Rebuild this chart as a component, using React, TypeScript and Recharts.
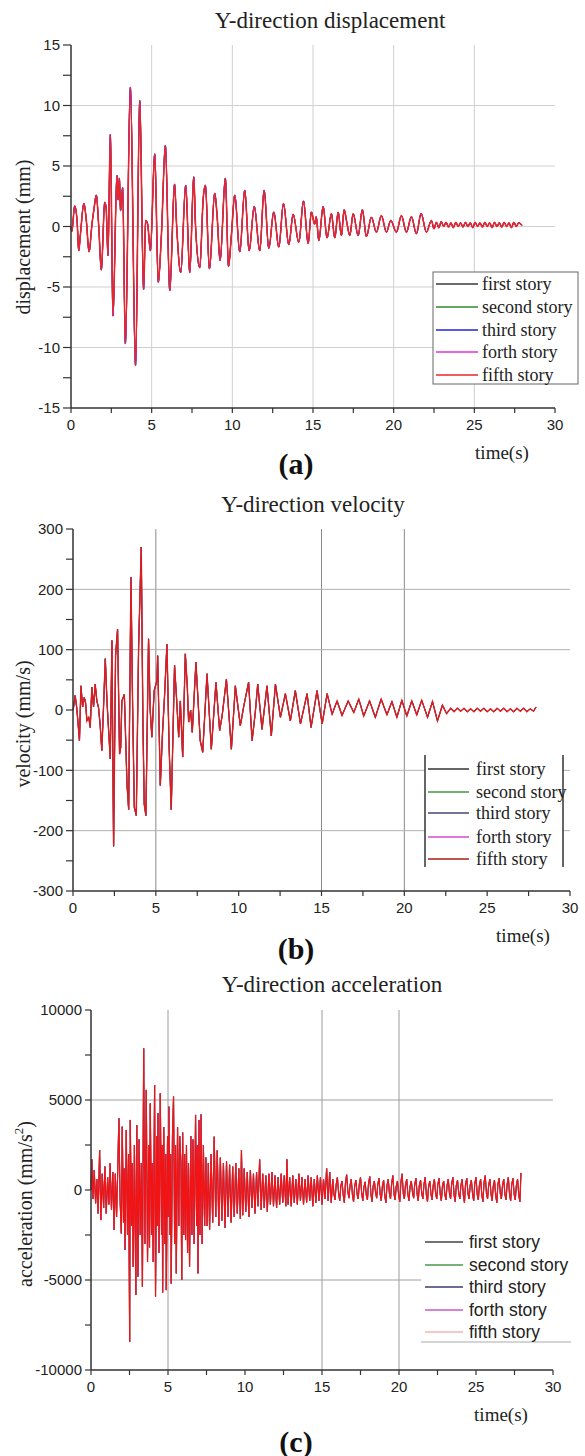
import React from 'react';
import { LineChart, Line, XAxis, YAxis, ReferenceLine } from 'recharts';

const storyNames = ['first story', 'second story', 'third story', 'forth story', 'fifth story'];
const storyKeys = ['first', 'second', 'third', 'forth', 'fifth'];

// [time (s), value] for the top (fifth) story; the other stories sit under it
const dispPoints: [number, number][] = [
  [0, 0], [0.05, -0.4], [0.23, 1.7], [0.38, 0.4], [0.48, -2.0], [0.58, -0.7], [0.8, 1.9], [0.95, 0.5],
  [1.12, -2.1], [1.3, 0.2], [1.43, 1.5], [1.57, 2.6], [1.72, 0], [1.88, -3.6], [2.09, 2.0], [2.18, 1.5],
  [2.29, -2.4], [2.44, 7.6], [2.6, -7.4], [2.85, 4.2], [2.93, 2.2], [3.0, 4.0], [3.07, 1.3], [3.2, 3.2],
  [3.37, -9.7], [3.68, 11.5], [4.0, -11.5], [4.26, 10.4], [4.5, -5.2], [4.63, 0.5], [4.75, 0.2], [4.92, -2.0],
  [5.19, 6.0], [5.41, -4.6], [5.6, -0.8], [5.85, 6.7], [6.12, -5.3], [6.42, 3.5], [6.55, 0], [6.8, -3.8],
  [7.11, 3.4], [7.36, -3.8], [7.61, 4.1], [7.72, 0], [7.98, -3.4], [8.2, 2.4], [8.33, 3.4], [8.58, -3.5],
  [8.91, 2.75], [9.05, 1.0], [9.24, -2.8], [9.57, 4.0], [9.76, -3.3], [9.94, -0.75], [10.15, 2.6], [10.46, -2.1],
  [10.77, 3.0], [11.04, -2.0], [11.36, 1.65], [11.7, -2.0], [11.97, 3.0], [12.26, -1.8], [12.57, 1.2], [12.88, -1.7],
  [13.17, 1.9], [13.5, -1.5], [13.77, 1.0], [14.12, -1.3], [14.41, 2.1], [14.7, -1.4], [14.9, 1.2], [15.1, 0.2],
  [15.2, 0.8], [15.36, -1.16], [15.63, 1.65], [15.87, -0.94], [16.14, 1.05], [16.35, -0.94], [16.56, 1.18], [16.76, -0.74],
  [16.93, 1.38], [17.1, 0.3], [17.28, -0.74], [17.49, 1.05], [17.8, -0.74], [18.06, 1.38], [18.31, -0.83], [18.62, 0.77],
  [18.93, -0.47], [19.24, 0.9], [19.55, -0.47], [19.82, 0.5], [20.17, -0.47], [20.48, 0.9], [20.79, -0.47], [21.1, 0.8],
  [21.41, -0.6], [21.7, 1.07], [22.03, -0.47], [22.34, 0.5], [22.5, -0.2], [22.65, 0.35], [22.8, -0.1], [22.95, 0.4],
  [23.1, 0], [23.25, 0.35], [23.4, -0.05], [23.55, 0.3], [23.7, -0.1], [23.85, 0.35], [24.0, 0], [24.15, 0.3],
  [24.3, -0.05], [24.45, 0.35], [24.6, 0], [24.75, 0.3], [24.9, -0.1], [25.05, 0.35], [25.2, 0], [25.35, 0.3],
  [25.5, -0.05], [25.65, 0.35], [25.8, 0], [25.95, 0.3], [26.1, -0.1], [26.25, 0.35], [26.4, 0], [26.55, 0.3],
  [26.7, -0.05], [26.85, 0.35], [27.0, 0], [27.15, 0.3], [27.3, -0.1], [27.45, 0.35], [27.6, 0], [27.75, 0.3],
  [27.95, 0.1],
];

const velPoints: [number, number][] = [
  [0, 0], [0.03, 4], [0.13, 24], [0.22, 5], [0.3, -20], [0.39, -51], [0.48, 40], [0.58, 5], [0.68, 21], [0.76, 12],
  [0.84, -18], [0.95, -12], [1.04, -29], [1.14, 38], [1.24, 5], [1.34, 43], [1.44, 15], [1.54, 4], [1.64, -25],
  [1.74, -67], [1.85, 10], [1.95, 85], [2.05, 15], [2.15, -34], [2.25, -81], [2.35, 115], [2.45, -226], [2.57, 90],
  [2.69, 134], [2.81, -73], [2.88, -62], [2.95, 15], [3.1, 26], [3.26, -123], [3.36, -165], [3.5, 220], [3.6, 5],
  [3.7, -161], [3.82, -175], [3.96, 104], [4.12, 270], [4.22, -20], [4.3, -156], [4.4, -175], [4.56, 118], [4.66, 0],
  [4.76, -45], [4.9, 32], [5.07, 49], [5.11, 90], [5.27, -125], [5.4, -40], [5.52, 20], [5.67, 109], [5.8, -60],
  [5.93, -165], [6.13, 74], [6.25, 20], [6.38, -45], [6.48, 15], [6.62, -78], [6.78, 93], [6.9, 38], [6.98, -20],
  [7.1, 0], [7.2, -37], [7.42, 79], [7.55, 15], [7.68, -51], [7.83, -70], [8.09, 60], [8.35, -65], [8.63, 46],
  [8.85, -34], [9.0, -10], [9.26, 51], [9.56, -65], [9.8, 40], [10.1, -26], [10.3, 5], [10.6, 46], [10.81, -51],
  [11.0, -5], [11.15, 43], [11.41, -32], [11.71, 40], [11.97, -43], [12.22, 43], [12.52, -12], [12.82, 27],
  [13.12, -18], [13.42, 32], [13.73, -23], [14.13, 27], [14.37, -29], [14.73, 32], [15.04, -23], [15.34, 27],
  [15.64, -7], [15.94, 15], [16.24, -9], [16.61, 15], [16.95, -4], [17.25, 18], [17.55, -10], [17.9, 15],
  [18.25, -12], [18.6, 18], [18.95, -8], [19.25, 14], [19.55, -12], [19.85, 16], [20.15, -10], [20.45, 15],
  [20.75, -8], [21.05, 16], [21.4, -12], [21.7, 14], [22.0, -18], [22.3, 8], [22.55, -6], [22.8, 3], [23.0, -3],
  [23.2, 3], [23.4, -2], [23.6, 3], [23.8, -3], [24.0, 2], [24.2, -3], [24.4, 3], [24.6, -2], [24.8, 3], [25.0, -3],
  [25.2, 2], [25.4, -3], [25.6, 3], [25.8, -2], [26.0, 3], [26.2, -3], [26.4, 2], [26.6, -3], [26.8, 3], [27.0, -2],
  [27.2, 3], [27.4, -3], [27.6, 2], [27.8, -2], [27.95, 5],
];

const accPoints: [number, number][] = [
  [0, 0], [0.05, 1700], [0.13, -500], [0.21, 1100], [0.3, -740], [0.38, 600], [0.46, -1300], [0.56, 2220],
  [0.64, -1670], [0.73, 900], [0.82, -1000], [0.9, 1300], [0.99, -1300], [1.08, 700], [1.16, -800], [1.24, 1480],
  [1.33, -1100], [1.42, 1000], [1.5, -2220], [1.58, 900], [1.66, -1500], [1.74, 1200], [1.81, 3980], [1.89, -600],
  [1.97, -2410], [2.03, 3520], [2.11, -1800], [2.16, 1200], [2.21, -3330], [2.29, 3330], [2.37, -2500], [2.44, 2000],
  [2.51, -8430], [2.55, 3890], [2.63, -2000], [2.68, 1500], [2.74, -4260], [2.82, 2500], [2.91, -5830], [2.97, 3610],
  [3.05, -4810], [3.12, 2800], [3.2, -2500], [3.27, 1500], [3.34, -5370], [3.42, 7870], [3.5, -3000], [3.59, 5560],
  [3.67, -4000], [3.75, 2500], [3.8, -3200], [3.85, 4810], [3.93, -2500], [3.98, 1500], [4.04, -4000], [4.13, 5830],
  [4.19, -5930], [4.27, 3000], [4.31, -2000], [4.35, 4260], [4.42, -3500], [4.5, 5370], [4.58, -2500], [4.62, 2500],
  [4.65, -5700], [4.72, 3500], [4.8, -3000], [4.85, 2000], [4.89, -5560], [4.97, 3000], [5.02, -1500], [5.06, 4630],
  [5.13, -2500], [5.17, 2000], [5.21, -5200], [5.29, 3000], [5.36, 5190], [5.43, -3000], [5.49, 2500], [5.54, -4630],
  [5.62, 3500], [5.7, -2000], [5.76, 3000], [5.84, 1500], [5.89, -5000], [5.95, 3200], [6.02, -2500], [6.08, 2000],
  [6.14, -2780], [6.2, 2500], [6.27, -3500], [6.33, 1500], [6.4, -4260], [6.48, 3000], [6.55, -2500], [6.62, 2800],
  [6.7, -3000], [6.79, 4170], [6.86, -2000], [6.9, 2500], [6.95, -4630], [7.01, 3890], [7.08, -2500], [7.15, 4200],
  [7.22, -3000], [7.3, 2500], [7.38, -2000], [7.46, 1800], [7.54, -2000], [7.62, 1500], [7.7, -2200], [7.8, 2000],
  [7.9, -1800], [8.0, 2960], [8.1, -1500], [8.2, 2200], [8.3, -2000], [8.4, 1800], [8.5, -1700], [8.6, 1500],
  [8.7, -2100], [8.8, 1600], [8.9, -1500], [9.0, 1400], [9.1, -1800], [9.2, 1300], [9.3, -1500], [9.4, 1500],
  [9.5, -1300], [9.6, 1200], [9.7, -1600], [9.77, 2220], [9.85, -1400], [9.95, 1200], [10.05, -1200], [10.15, 1000],
  [10.25, -1500], [10.35, 1100], [10.45, -1000], [10.55, 900], [10.65, -1300], [10.75, 1000], [10.85, -900],
  [10.95, 1700], [11.05, -1100], [11.15, 900], [11.25, -1000], [11.35, 800], [11.45, -1200], [11.55, 900],
  [11.65, -800], [11.75, 1000], [11.85, -900], [11.95, 800], [12.05, -1000], [12.15, 700], [12.25, -800],
  [12.35, 900], [12.45, -700], [12.55, 800], [12.65, -900], [12.72, 1700], [12.8, -800], [12.9, 700], [13.0, -900],
  [13.1, 800], [13.2, -700], [13.3, 600], [13.4, -800], [13.5, 900], [13.6, -600], [13.7, 700], [13.8, -800],
  [13.9, 600], [14.0, -700], [14.1, 800], [14.2, -600], [14.3, 700], [14.4, -900], [14.5, 600], [14.6, -700],
  [14.7, 800], [14.8, -600], [14.9, 700], [15.0, -800], [15.1, 600], [15.2, -500], [15.3, 1200], [15.4, -600],
  [15.5, 1000], [15.6, -700], [15.7, 600], [15.78, -250], [15.85, -550], [15.92, 300], [16.0, 700], [16.08, -200],
  [16.15, -600], [16.22, 200], [16.3, 500], [16.38, -300], [16.45, -700], [16.52, 350], [16.6, 850], [16.68, -100],
  [16.75, -450], [16.82, 250], [16.9, 600], [16.98, -300], [17.05, -650], [17.12, 200], [17.2, 550], [17.28, -250],
  [17.35, -500], [17.42, 300], [17.5, 700], [17.58, -200], [17.65, -600], [17.72, 150], [17.8, 450], [17.88, -300],
  [17.95, -550], [18.02, 350], [18.1, 750], [18.18, -250], [18.25, -650], [18.32, 200], [18.4, 500], [18.48, -150],
  [18.55, -450], [18.62, 300], [18.7, 650], [18.78, -250], [18.85, -600], [18.92, 200], [19.0, 550], [19.08, -350],
  [19.15, -700], [19.22, 250], [19.3, 600], [19.38, -200], [19.45, -500], [19.52, 350], [19.6, 800], [19.68, -250],
  [19.75, -550], [19.82, 200], [19.9, 500], [19.98, -300], [20.05, -650], [20.12, 400], [20.2, 900], [20.28, -200],
  [20.35, -500], [20.42, 250], [20.5, 600], [20.58, -250], [20.65, -600], [20.72, 200], [20.8, 500], [20.88, -150],
  [20.95, -450], [21.02, 300], [21.1, 650], [21.18, -250], [21.25, -600], [21.32, 250], [21.4, 550], [21.48, -200],
  [21.55, -500], [21.62, 300], [21.7, 700], [21.78, -300], [21.85, -650], [21.92, 200], [22.0, 500], [22.08, -250],
  [22.15, -550], [22.22, 250], [22.3, 600], [22.38, -200], [22.45, -500], [22.52, 300], [22.6, 650], [22.68, -250],
  [22.75, -600], [22.82, 200], [22.9, 500], [22.98, -250], [23.05, -550], [23.12, 250], [23.2, 600], [23.28, -200],
  [23.35, -500], [23.42, 350], [23.5, 700], [23.58, -300], [23.65, -650], [23.72, 250], [23.8, 550], [23.88, -200],
  [23.95, -500], [24.02, 250], [24.1, 600], [24.18, -300], [24.25, -700], [24.32, 300], [24.4, 650], [24.48, -200],
  [24.55, -500], [24.62, 250], [24.7, 550], [24.78, -250], [24.85, -600], [24.92, 350], [25.0, 700], [25.08, -250],
  [25.15, -550], [25.22, 250], [25.3, 600], [25.38, -300], [25.45, -650], [25.52, 400], [25.6, 800], [25.68, -200],
  [25.75, -500], [25.82, 250], [25.9, 600], [25.98, -250], [26.05, -600], [26.12, 200], [26.2, 550], [26.28, -300],
  [26.35, -700], [26.42, 300], [26.5, 650], [26.58, -200], [26.65, -500], [26.72, 250], [26.8, 600], [26.88, -250],
  [26.95, -550], [27.02, 300], [27.1, 700], [27.18, -250], [27.25, -600], [27.32, 300], [27.4, 650], [27.48, -250],
  [27.55, -550], [27.62, 250], [27.7, 600], [27.78, -300], [27.85, -650], [27.92, 950],
];

const timeTicks = [0, 2.5, 5, 7.5, 10, 12.5, 15, 17.5, 20, 22.5, 25, 27.5, 30];
const dispTicks = [-15, -12.5, -10, -7.5, -5, -2.5, 0, 2.5, 5, 7.5, 10, 12.5, 15];
const velTicks = [-300, -250, -200, -150, -100, -50, 0, 50, 100, 150, 200, 250, 300];
const accTicks = [-10000, -7500, -5000, -2500, 0, 2500, 5000, 7500, 10000];

const dispGridX = [5, 10, 15, 20, 25];
const dispGridY = [-10, -5, 0, 5, 10];
const velGridX = [5, 15, 20];
const velGridY = [-200, -100, 100, 200];
const accGridX = [5, 15, 20];
const accGridY = [5000];
const accShortGrid = { y: -5000, until: 21.44 };

const dispColors = ['#3a3a3a', '#2e8b2e', '#2424d8', '#e030e0', '#e8262a'];
const velColors = ['#333333', '#3c9a3c', '#45457a', '#d44ad4', '#d81e1e'];
const velLegendColors = ['#333333', '#3c9a3c', '#45457a', '#d44ad4', '#a81c1c'];
const accColors = ['#444444', '#4a9a4a', '#3c3c6c', '#c858c8', '#f21414'];
const accLegendColors = ['#444444', '#4a9a4a', '#3c3c6c', '#c858c8', '#f2b4b4'];

const SERIF = "'Liberation Serif', 'Times New Roman', serif";
const SANS = "'Liberation Sans', Arial, sans-serif";

const toRows = (pts: [number, number][]) =>
  pts.map(([t, v]) => ({ t, first: v, second: v, third: v, forth: v, fifth: v }));

type PanelProps = {
  top: number;
  height: number;
  margin: { top: number; right: number; bottom: number; left: number };
  yWidth: number;
  yTickSize: number;
  yTicks: number[];
  yStep: number;
  rows: Array<Record<string, number>>;
  colors: string[];
  lineWidth: number;
  curve: 'linear' | 'monotone';
  gridX: number[];
  gridY: number[];
  gridXColor: string;
  gridYColor: string;
  extraSegment?: { y: number; until: number };
};

const tickStyle = { fill: '#222', fontSize: 15, fontFamily: SANS };

const Panel: React.FC<PanelProps> = (p) => {
  const yMin = p.yTicks[0];
  const yMax = p.yTicks[p.yTicks.length - 1];
  return (
    <div style={{ position: 'absolute', left: 0, top: p.top }}>
      <LineChart width={585} height={p.height} data={p.rows} margin={p.margin}>
        <XAxis
          type="number"
          dataKey="t"
          domain={[0, 30]}
          ticks={timeTicks}
          interval={0}
          tickFormatter={(v: number) => (v % 5 === 0 ? String(v) : '')}
          tick={tickStyle}
          tickSize={5}
          tickMargin={6}
          height={30}
          axisLine={{ stroke: '#333', strokeWidth: 1.5 }}
          tickLine={{ stroke: '#333', strokeWidth: 1.2 }}
        />
        <YAxis
          type="number"
          domain={[yMin, yMax]}
          ticks={p.yTicks}
          interval={0}
          allowDataOverflow
          tickFormatter={(v: number) => (v % p.yStep === 0 ? String(v) : '')}
          tick={tickStyle}
          tickSize={p.yTickSize}
          tickMargin={3}
          width={p.yWidth}
          axisLine={{ stroke: '#333', strokeWidth: 1.5 }}
          tickLine={{ stroke: '#333', strokeWidth: 1.2 }}
        />
        {p.gridX.map((x) => (
          <ReferenceLine key={`gx${x}`} x={x} stroke={p.gridXColor} strokeWidth={1} />
        ))}
        {p.gridY.map((y) => (
          <ReferenceLine key={`gy${y}`} y={y} stroke={p.gridYColor} strokeWidth={1} />
        ))}
        {p.extraSegment && (
          <ReferenceLine
            segment={[
              { x: 0, y: p.extraSegment.y },
              { x: p.extraSegment.until, y: p.extraSegment.y },
            ]}
            stroke={p.gridYColor}
            strokeWidth={1}
          />
        )}
        {storyKeys.map((k, i) => (
          <Line
            key={k}
            type={p.curve}
            dataKey={k}
            stroke={p.colors[i]}
            strokeWidth={i === 4 ? p.lineWidth : p.lineWidth * 0.6}
            dot={false}
            isAnimationActive={false}
          />
        ))}
      </LineChart>
    </div>
  );
};

type LegendProps = {
  colors: string[];
  x1: number;
  x2: number;
  textX: number;
  rows: number[];
  font: string;
  size: number;
};

const LegendRows: React.FC<LegendProps> = ({ colors, x1, x2, textX, rows, font, size }) => (
  <g>
    {storyNames.map((name, i) => (
      <g key={name}>
        <line x1={x1} x2={x2} y1={rows[i]} y2={rows[i]} stroke={colors[i]} strokeWidth={1.4} />
        <text x={textX} y={rows[i]} dominantBaseline="central" fontFamily={font} fontSize={size} fill="#222">
          {name}
        </text>
      </g>
    ))}
  </g>
);

const App: React.FC = () => {
  const dispRows = toRows(dispPoints);
  const velRows = toRows(velPoints);
  const accRows = toRows(accPoints);

  return (
    <div style={{ position: 'absolute', left: 0, top: 0, width: 585, height: 1456, background: '#fff' }}>
      <Panel
        top={0}
        height={480}
        margin={{ top: 45, right: 30, bottom: 42, left: 0 }}
        yWidth={71}
        yTickSize={8}
        yTicks={dispTicks}
        yStep={5}
        rows={dispRows}
        colors={dispColors}
        lineWidth={1.6}
        curve="monotone"
        gridX={dispGridX}
        gridY={dispGridY}
        gridXColor="#cfcfcf"
        gridYColor="#cfcfcf"
      />
      <Panel
        top={480}
        height={490}
        margin={{ top: 49, right: 15, bottom: 49, left: 0 }}
        yWidth={73}
        yTickSize={7}
        yTicks={velTicks}
        yStep={100}
        rows={velRows}
        colors={velColors}
        lineWidth={1.4}
        curve="linear"
        gridX={velGridX}
        gridY={velGridY}
        gridXColor="#8a8a8a"
        gridYColor="#b0b0b0"
      />
      <Panel
        top={970}
        height={486}
        margin={{ top: 40, right: 32, bottom: 56, left: 0 }}
        yWidth={91}
        yTickSize={6}
        yTicks={accTicks}
        yStep={5000}
        rows={accRows}
        colors={accColors}
        lineWidth={1.2}
        curve="linear"
        gridX={accGridX}
        gridY={accGridY}
        gridXColor="#9a9a9a"
        gridYColor="#a0a0a0"
        extraSegment={accShortGrid}
      />

      <svg
        width={585}
        height={1456}
        style={{ position: 'absolute', left: 0, top: 0, pointerEvents: 'none' }}
      >
        {/* (a) */}
        <text x={330} y={20} textAnchor="middle" dominantBaseline="central" fontFamily={SERIF} fontSize={23} fill="#222">
          Y-direction displacement
        </text>
        <text
          x={23}
          y={237}
          transform="rotate(-90 23 237)"
          textAnchor="middle"
          dominantBaseline="central"
          fontFamily={SERIF}
          fontSize={20}
          fill="#222"
        >
          displacement (mm)
        </text>
        <rect x={433} y={272} width={145} height={112} fill="#fff" stroke="#666" strokeWidth={1} />
        <LegendRows colors={dispColors} x1={436} x2={478} textX={482} rows={[284, 307, 330, 352, 375]} font={SERIF} size={18} />
        <text x={502} y={452} textAnchor="middle" dominantBaseline="central" fontFamily={SERIF} fontSize={19} fill="#222">
          time(s)
        </text>
        <text x={296} y={463} textAnchor="middle" dominantBaseline="central" fontFamily={SERIF} fontSize={30} fontWeight="bold" fill="#111">
          (a)
        </text>

        {/* (b) */}
        <text x={313} y={504} textAnchor="middle" dominantBaseline="central" fontFamily={SERIF} fontSize={23} fill="#222">
          Y-direction velocity
        </text>
        <text
          x={23}
          y={724}
          transform="rotate(-90 23 724)"
          textAnchor="middle"
          dominantBaseline="central"
          fontFamily={SERIF}
          fontSize={20}
          fill="#222"
        >
          velocity (mm/s)
        </text>
        <rect x={425} y={755} width={138} height={112} fill="#fff" />
        <line x1={425} x2={425} y1={755} y2={867} stroke="#333" strokeWidth={1.5} />
        <line x1={563} x2={563} y1={755} y2={867} stroke="#333" strokeWidth={1.5} />
        <LegendRows colors={velLegendColors} x1={428} x2={469} textX={476} rows={[769, 792, 813, 837, 859]} font={SERIF} size={18} />
        <text x={523} y={935} textAnchor="middle" dominantBaseline="central" fontFamily={SERIF} fontSize={19} fill="#222">
          time(s)
        </text>
        <text x={296} y={948} textAnchor="middle" dominantBaseline="central" fontFamily={SERIF} fontSize={30} fontWeight="bold" fill="#111">
          (b)
        </text>

        {/* (c) */}
        <text x={332} y={984} textAnchor="middle" dominantBaseline="central" fontFamily={SERIF} fontSize={23} fill="#222">
          Y-direction acceleration
        </text>
        <text
          x={25}
          y={1204}
          transform="rotate(-90 25 1204)"
          textAnchor="middle"
          dominantBaseline="central"
          fontFamily={SERIF}
          fontSize={20}
          fill="#222"
        >
          acceleration (mm/s<tspan dy={-7} fontSize={13}>2</tspan><tspan dy={7}>)</tspan>
        </text>
        <rect x={422} y={1231} width={150} height={110} fill="#fff" />
        <line x1={421} x2={571} y1={1342} y2={1342} stroke="#aaa" strokeWidth={1} />
        <LegendRows colors={accLegendColors} x1={425} x2={463} textX={469} rows={[1242, 1265, 1287, 1310, 1332]} font={SANS} size={17.5} />
        <text x={501} y={1414} textAnchor="middle" dominantBaseline="central" fontFamily={SERIF} fontSize={19} fill="#222">
          time(s)
        </text>
        <text x={296} y={1441} textAnchor="middle" dominantBaseline="central" fontFamily={SERIF} fontSize={30} fontWeight="bold" fill="#111">
          (c)
        </text>
      </svg>
    </div>
  );
};

export default App;
